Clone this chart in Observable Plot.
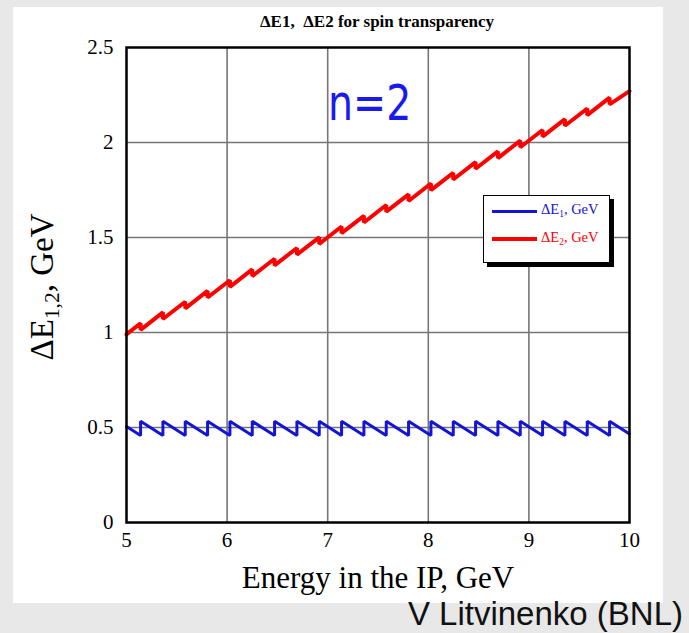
<!DOCTYPE html>
<html>
<head>
<meta charset="utf-8">
<script src="https://cdn.jsdelivr.net/npm/d3@7"></script>
<script src="https://cdn.jsdelivr.net/npm/@observablehq/plot@0.6"></script>
<style>
  body { margin:0; width:689px; height:633px; background:#e8e8e8; position:relative; overflow:hidden; }
  #panel { position:absolute; left:13px; top:7px; width:650px; height:596px; background:#fff; }
  #chart { position:absolute; left:0; top:0; }
  .t { position:absolute; white-space:nowrap; font-family:"Liberation Serif","DejaVu Serif",serif; color:#000; line-height:1; }
  .sub { font-size:0.65em; vertical-align:-0.3em; }
</style>
</head>
<body>
<div id="panel"></div>
<div id="chart"></div>
<div class="t" id="title" style="left:0;width:754px;text-align:center;top:13px;font-size:17px;font-weight:bold;">ΔE1,&nbsp; ΔE2 for spin transparency</div>
<div class="t" id="ylab" style="left:45px;top:287px;font-size:33px;transform:translate(-50%,-50%) rotate(-90deg);">ΔE<span class="sub">1,2</span>, GeV</div>
<div class="t" id="xlab" style="left:0;width:756px;text-align:center;top:562px;font-size:31px;">Energy in the IP, GeV</div>
<div class="t" id="nlab" style="left:328px;top:78px;font-family:'DejaVu Sans',sans-serif;font-size:50px;color:#1a1aee;transform:scaleX(0.79);transform-origin:left top;">n=2</div>
<div id="legend" style="position:absolute;left:483px;top:195px;width:125px;height:66px;background:#fff;border:1.5px solid #000;box-shadow:4px 4px 0 #000;">
  <div style="position:absolute;left:8px;top:14px;width:45px;height:2.5px;background:#1414d6;"></div>
  <div class="t" style="left:57px;top:6px;font-size:14.5px;color:#1414d6;">ΔE<span class="sub">1</span>, GeV</div>
  <div style="position:absolute;left:8px;top:41px;width:45px;height:4px;background:#ff0000;"></div>
  <div class="t" style="left:57px;top:34px;font-size:14.5px;color:#ff0000;">ΔE<span class="sub">2</span>, GeV</div>
</div>
<div class="t" id="credit" style="right:6px;top:597px;font-family:'Liberation Sans',Arial,sans-serif;font-size:33px;color:#111;">V Litvinenko (BNL)</div>
<script>
// ---- data ----
const xTicks = [5, 6, 7, 8, 9, 10];
const yTicks = [0, 0.5, 1, 1.5, 2, 2.5];
// energies (GeV) at which the sawtooth jumps
const jumpX = [5.140, 5.362, 5.584, 5.806, 6.028, 6.250, 6.472, 6.694, 6.916, 7.138, 7.360,
               7.582, 7.804, 8.026, 8.248, 8.470, 8.692, 8.914, 9.136, 9.358, 9.580, 9.802];
// ΔE1: value just before and just after each jump
const blueBefore = [0.458, 0.458, 0.458, 0.458, 0.458, 0.458, 0.458, 0.458, 0.458, 0.458, 0.458,
                    0.458, 0.458, 0.458, 0.458, 0.458, 0.458, 0.458, 0.458, 0.458, 0.458, 0.458];
const blueAfter  = [0.533, 0.533, 0.533, 0.533, 0.533, 0.533, 0.533, 0.533, 0.533, 0.533, 0.533,
                    0.533, 0.533, 0.533, 0.533, 0.533, 0.533, 0.533, 0.533, 0.533, 0.533, 0.533];
const blueStart = 0.505, blueEnd = 0.466;
// ΔE2: value just before and just after each jump
const redBefore = [1.049, 1.106, 1.162, 1.219, 1.275, 1.332, 1.388, 1.445, 1.501, 1.558, 1.614,
                   1.671, 1.727, 1.784, 1.840, 1.897, 1.953, 2.010, 2.066, 2.123, 2.179, 2.236];
const redAfter  = [1.014, 1.071, 1.127, 1.184, 1.240, 1.297, 1.353, 1.410, 1.466, 1.523, 1.579,
                   1.636, 1.692, 1.749, 1.805, 1.862, 1.918, 1.975, 2.031, 2.088, 2.144, 2.201];
const redStart = 0.99, redEnd = 2.27;

function rows(start, before, after, end) {
  return [{x: xTicks[0], y: start},
          ...jumpX.flatMap((x, i) => [{x, y: before[i]}, {x, y: after[i]}]),
          {x: xTicks[xTicks.length - 1], y: end}];
}
const blueRows = rows(blueStart, blueBefore, blueAfter, blueEnd);
const redRows = rows(redStart, redBefore, redAfter, redEnd);

const chart = Plot.plot({
  width: 689, height: 633,
  marginLeft: 126, marginRight: 60, marginTop: 47, marginBottom: 111,
  x: {domain: [5, 10]},
  y: {domain: [0, 2.5]},
  style: {background: "transparent", fontFamily: "'Liberation Serif','DejaVu Serif',serif", fontSize: "21px", color: "#000", overflow: "visible"},
  marks: [
    Plot.gridX(xTicks.slice(1, -1), {stroke: "#767676", strokeOpacity: 1, strokeWidth: 1.6}),
    Plot.gridY(yTicks.slice(1, -1), {stroke: "#767676", strokeOpacity: 1, strokeWidth: 1.6}),
    Plot.axisX(xTicks, {tickSize: 0, tickPadding: 10, label: null, fontSize: 21, tickFormat: d => String(d)}),
    Plot.axisY(yTicks, {tickSize: 0, tickPadding: 13, label: null, fontSize: 21, tickFormat: d => String(d)}),
    Plot.line(blueRows, {x: "x", y: "y", stroke: "#1414d6", strokeWidth: 3, strokeLinejoin: "miter"}),
    Plot.line(redRows, {x: "x", y: "y", stroke: "#ff0000", strokeWidth: 4, strokeLinejoin: "miter"}),
    Plot.frame({stroke: "#000", strokeWidth: 2.5})
  ]
});
document.getElementById("chart").appendChild(chart);
</script>
</body>
</html>
